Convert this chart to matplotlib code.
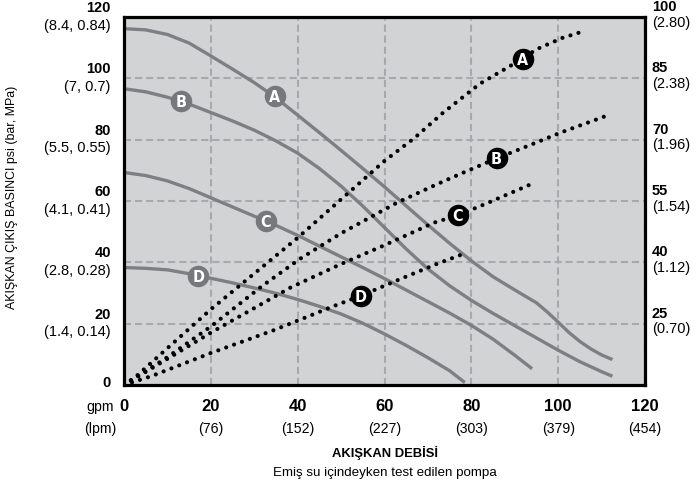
import numpy as np
import matplotlib.pyplot as plt

plt.rcParams['font.family'] = ['Liberation Sans', 'DejaVu Sans']

# fluid flow (gpm) vs fluid outlet pressure (psi), solid performance curves
curve_names = ['A', 'B', 'C', 'D']
flow_a = [0, 5, 10, 15, 20, 25, 30, 34.6, 40, 45, 50, 55, 60, 65, 70, 75, 80, 85, 90, 95,
          97.5, 100, 102.5, 105, 107.5, 110, 112.5]
psi_a = [116.2, 115.8, 114.3, 111.5, 107.3, 103, 98.6, 94.1, 88, 82.3, 76.5, 70.6, 64.6, 58.4,
         52.2, 46.2, 40.5, 35.3, 31, 26.8, 23.8, 20.5, 17.1, 14.2, 11.8, 9.8, 8.3]
flow_b = [0, 5, 10, 15, 20, 25, 30, 35, 40, 45, 50, 55, 60, 65, 70, 75, 80, 85, 90, 95,
          100, 105, 110, 112.5]
psi_b = [96.6, 95.6, 93.85, 91.6, 88.85, 86.1, 83.1, 79.6, 75.6, 70.6, 64.85, 58.35, 51.35,
         44.35, 37.85, 32.35, 27.6, 23.35, 19.35, 15.35, 11.35, 7.6, 4.35, 2.85]
flow_c = [0, 5, 10, 15, 20, 25, 30, 35, 40, 45, 50, 55, 60, 65, 70, 75, 80, 85, 90, 94]
psi_c = [69.3, 68.3, 66.55, 64.05, 61.05, 58.05, 55.05, 52.05, 48.8, 45.3, 41.8, 38.3, 34.7,
         30.95, 27.2, 23.45, 19.45, 14.95, 9.7, 5.3]
flow_d = [0, 5, 10, 15, 20, 25, 30, 35, 40, 45, 50, 55, 60, 65, 70, 75, 78.5]
psi_d = [38.3, 38.05, 37.55, 36.3, 34.8, 33.3, 31.65, 29.9, 27.9, 25.65, 23.15, 20.15, 16.65,
         12.9, 8.9, 4.65, 0.8]

# air consumption curves (dotted), right axis units
air_flow_a = [0, 3, 10, 20, 40, 60, 67, 73.5, 82, 91.8, 95, 101, 105.2]
air_a = [10, 12.3, 19, 28.5, 46, 64.8, 70.5, 76.6, 83.7, 89.8, 92.1, 94.9, 96.3]
air_flow_b = [0, 10, 20, 31.8, 40.6, 50, 62.9, 72.5, 78.5, 85.8, 94.5, 100.5, 110.5]
air_b = [10, 16.8, 24.3, 34.2, 40.9, 47.1, 54.6, 59.3, 62.1, 65.4, 69.1, 71.7, 75.6]
air_flow_c = [0, 10, 20, 30, 38.3, 49.8, 59.8, 71.4, 76.9, 83.5, 93.3]
air_c = [10, 16.4, 22.8, 28.8, 33.8, 39.5, 44.1, 49.7, 51.5, 54.4, 58.9]
air_flow_d = [0, 6.4, 20.2, 34.5, 40.6, 48.3, 54.5, 64.5, 71.8, 77.9]
air_d = [10, 12.2, 17.9, 23.4, 26.0, 29.3, 31.8, 36.3, 39.5, 41.95]

# label positions on the curves
curve_label_x = [34.7, 13.2, 32.7, 17.1]
curve_label_y = [94.3, 92.5, 53.4, 35.6]
air_label_x = [91.8, 85.8, 76.9, 54.5]
air_label_y = [89.8, 65.4, 51.5, 31.8]

# ticks
gpm_ticks = [0, 20, 40, 60, 80, 100, 120]
lpm_labels = ['', '(76)', '(152)', '(227)', '(303)', '(379)', '(454)']
psi_ticks = [0, 20, 40, 60, 80, 100, 120]
bar_labels = ['', '(1.4, 0.14)', '(2.8, 0.28)', '(4.1, 0.41)', '(5.5, 0.55)', '(7, 0.7)', '(8.4, 0.84)']
scfm_ticks = [25, 40, 55, 70, 85, 100]
m3_labels = ['(0.70)', '(1.12)', '(1.54)', '(1.96)', '(2.38)', '(2.80)']

gray = '#7d7f82'
fig = plt.figure(figsize=(6.96, 4.88), dpi=100)
ax = fig.add_axes([124 / 696, 1 - 385 / 488, (645 - 124) / 696, (385 - 17) / 488])
ax.set_facecolor('#d1d3d4')
ax.set_xlim(0, 120)
ax.set_ylim(0, 120)
ax.set_xticks(gpm_ticks)
ax.set_yticks(psi_ticks)
ax.tick_params(length=0, labelbottom=False, labelleft=False)
ax.grid(True, color='#a7a9ac', lw=1.5, linestyle=(0, (3.4, 1.9)))
for s in ax.spines.values():
    s.set_linewidth(2.3)
    s.set_zorder(5)

for fx, py in [(flow_a, psi_a), (flow_b, psi_b), (flow_c, psi_c), (flow_d, psi_d)]:
    ax.plot(fx, py, color=gray, lw=2.4, solid_capstyle='butt', solid_joinstyle='round', zorder=2)
ax.plot(curve_label_x, curve_label_y, 'o', ms=15.5, color='#76787b', mec='none', zorder=3)
for name, x, y in zip(curve_names, curve_label_x, curve_label_y):
    ax.text(x, y, name, color='white', fontsize=11.5, fontweight='bold', family='DejaVu Sans',
            fontstretch='condensed', ha='center', va='center_baseline', zorder=4)

ax2 = ax.twinx()
ax2.set_ylim(10, 100)
ax2.set_yticks(scfm_ticks)
ax2.tick_params(length=0, labelright=False)
for s in ax2.spines.values():
    s.set_visible(False)
for fx, ay in [(air_flow_a, air_a), (air_flow_b, air_b), (air_flow_c, air_c), (air_flow_d, air_d)]:
    ax2.plot(fx, ay, color='black', lw=3, linestyle=(0, (0.01, 2.0)),
             dash_capstyle='round', zorder=2)
ax2.plot(air_label_x, air_label_y, 'o', ms=15.5, color='black', mec='none', zorder=3)
for name, x, y in zip(curve_names, air_label_x, air_label_y):
    ax2.text(x, y, name, color='white', fontsize=11.5, fontweight='bold', family='DejaVu Sans',
             fontstretch='condensed', ha='center', va='center_baseline', zorder=4)

# left tick labels
for v, lab in zip(psi_ticks, bar_labels):
    if lab:
        ax.annotate(str(v), (0, v), xycoords=('axes fraction', 'data'), xytext=(-9.5, 6.5),
                    textcoords='offset points', ha='right', va='center', fontsize=10.5, fontweight='bold')
        ax.annotate(lab, (0, v), xycoords=('axes fraction', 'data'), xytext=(-9.5, -6.3),
                    textcoords='offset points', ha='right', va='center', fontsize=10.5)
    else:
        ax.annotate(str(v), (0, v), xycoords=('axes fraction', 'data'), xytext=(-9.5, 1.5),
                    textcoords='offset points', ha='right', va='center', fontsize=10.5, fontweight='bold')

# right tick labels
for v, lab in zip(scfm_ticks, m3_labels):
    ax2.annotate(str(v), (1, v), xycoords=('axes fraction', 'data'), xytext=(5, 7.3),
                 textcoords='offset points', ha='left', va='center', fontsize=10.5, fontweight='bold')
    ax2.annotate(lab, (1, v), xycoords=('axes fraction', 'data'), xytext=(5, -4.0),
                 textcoords='offset points', ha='left', va='center', fontsize=10.5)

# bottom tick labels
for v, lab in zip(gpm_ticks, lpm_labels):
    ax.annotate(str(v), (v, 0), xycoords=('data', 'axes fraction'), xytext=(0, -15.6),
                textcoords='offset points', ha='center', va='center', fontsize=12, fontweight='bold')
    if lab:
        ax.annotate(lab, (v, 0), xycoords=('data', 'axes fraction'), xytext=(0, -32),
                    textcoords='offset points', ha='center', va='center', fontsize=10.2)
ax.annotate('gpm', (0, 0), xycoords='axes fraction', xytext=(-17, -15.6),
            textcoords='offset points', ha='center', va='center', fontsize=10.2)
ax.annotate('(lpm)', (0, 0), xycoords='axes fraction', xytext=(-17, -32),
            textcoords='offset points', ha='center', va='center', fontsize=10.2)

fig.text(384.5 / 696, 1 - 453 / 488, 'AKIŞKAN DEBİSİ', ha='center', va='center',
         fontsize=9.4, fontweight='bold')
fig.text(384.5 / 696, 1 - 473 / 488, 'Emiş su içindeyken test edilen pompa',
         ha='center', va='center', fontsize=9.6)
fig.text(12 / 696, 1 - 197 / 488, 'AKIŞKAN ÇIKIŞ BASINCI psi (bar, MPa)', rotation=90,
         ha='center', va='center', fontsize=8.9)

fig.savefig('out.png', dpi=100)
